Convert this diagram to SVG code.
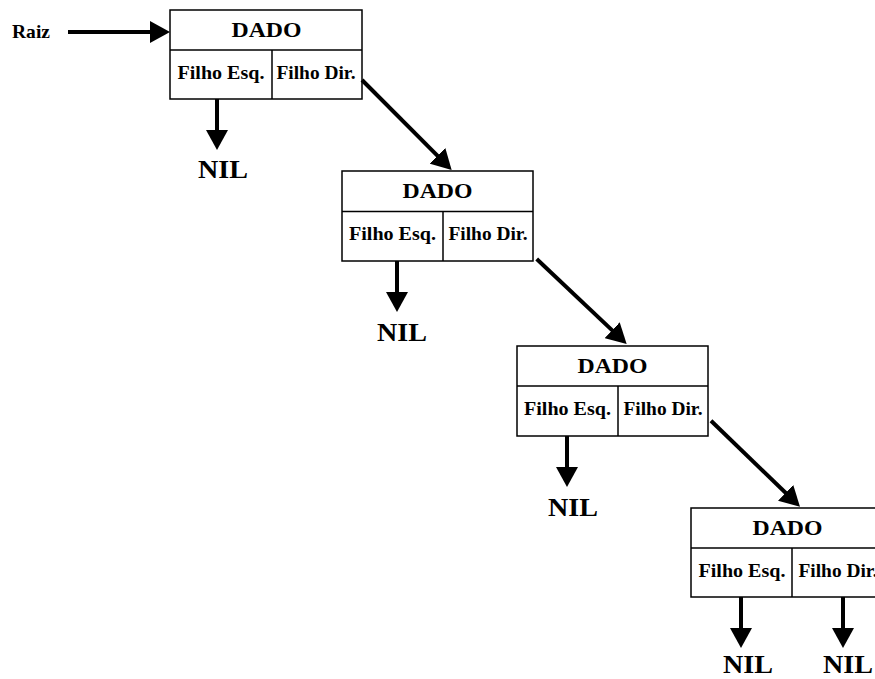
<svg xmlns="http://www.w3.org/2000/svg" width="875" height="679" viewBox="0 0 875 679">
  <style>
    text { font-family: "Liberation Serif", "Times New Roman", serif; font-weight: bold; fill: #000; text-anchor: middle; }
    .box { fill: #fff; stroke: #000; stroke-width: 1.5; }
    .sep { stroke: #000; stroke-width: 1.5; fill: none; }
    .dado { font-size: 21px; }
    .campo { font-size: 18.5px; }
    .nil { font-size: 25px; }
    .raiz { font-size: 19px; text-anchor: start; }
    .seta { stroke: #000; stroke-width: 4; fill: none; marker-end: url(#ponta); }
  </style>
  <defs>
    <marker id="ponta" markerUnits="userSpaceOnUse" markerWidth="20" markerHeight="22" refX="10" refY="11" orient="auto">
      <path d="M0,0 L20,11 L0,22 z" fill="#000"/>
    </marker>
  </defs>

  <rect width="875" height="679" fill="#fff"/>

  <!-- Nó 1 -->
  <g id="no1">
    <rect class="box" x="170" y="10" width="192" height="89"/>
    <line class="sep" x1="170" y1="50" x2="362" y2="50"/>
    <line class="sep" x1="272" y1="50" x2="272" y2="99"/>
    <text class="dado" x="266.5" y="37" textLength="70" lengthAdjust="spacingAndGlyphs">DADO</text>
    <text class="campo" x="221" y="79" textLength="87" lengthAdjust="spacingAndGlyphs">Filho Esq.</text>
    <text class="campo" x="316" y="79" textLength="79" lengthAdjust="spacingAndGlyphs">Filho Dir.</text>
  </g>

  <!-- Nó 2 -->
  <g id="no2">
    <rect class="box" x="342" y="171" width="191" height="90"/>
    <line class="sep" x1="342" y1="211.5" x2="533" y2="211.5"/>
    <line class="sep" x1="443" y1="211.5" x2="443" y2="261"/>
    <text class="dado" x="437.5" y="198" textLength="70" lengthAdjust="spacingAndGlyphs">DADO</text>
    <text class="campo" x="392.5" y="240" textLength="87" lengthAdjust="spacingAndGlyphs">Filho Esq.</text>
    <text class="campo" x="488" y="240" textLength="79" lengthAdjust="spacingAndGlyphs">Filho Dir.</text>
  </g>

  <!-- Nó 3 -->
  <g id="no3">
    <rect class="box" x="517" y="346" width="191" height="90"/>
    <line class="sep" x1="517" y1="386" x2="708" y2="386"/>
    <line class="sep" x1="618" y1="386" x2="618" y2="436"/>
    <text class="dado" x="612.5" y="373" textLength="70" lengthAdjust="spacingAndGlyphs">DADO</text>
    <text class="campo" x="567.5" y="415" textLength="87" lengthAdjust="spacingAndGlyphs">Filho Esq.</text>
    <text class="campo" x="663" y="415" textLength="79" lengthAdjust="spacingAndGlyphs">Filho Dir.</text>
  </g>

  <!-- Nó 4 -->
  <g id="no4">
    <rect class="box" x="691" y="508" width="192" height="89"/>
    <line class="sep" x1="691" y1="548" x2="883" y2="548"/>
    <line class="sep" x1="792" y1="548" x2="792" y2="597"/>
    <text class="dado" x="787.5" y="535" textLength="70" lengthAdjust="spacingAndGlyphs">DADO</text>
    <text class="campo" x="742" y="577" textLength="87" lengthAdjust="spacingAndGlyphs">Filho Esq.</text>
    <text class="campo" x="838" y="577" textLength="79" lengthAdjust="spacingAndGlyphs">Filho Dir.</text>
  </g>

  <!-- Rótulos -->
  <g id="raiz">
    <text class="raiz" x="12" y="38" textLength="38" lengthAdjust="spacingAndGlyphs">Raiz</text>
  </g>
  <g id="nil1"><text class="nil" x="223" y="178" textLength="50" lengthAdjust="spacingAndGlyphs">NIL</text></g>
  <g id="nil2"><text class="nil" x="402" y="341" textLength="50" lengthAdjust="spacingAndGlyphs">NIL</text></g>
  <g id="nil3"><text class="nil" x="573" y="516" textLength="50" lengthAdjust="spacingAndGlyphs">NIL</text></g>
  <g id="nil4"><text class="nil" x="748" y="673" textLength="50" lengthAdjust="spacingAndGlyphs">NIL</text></g>
  <g id="nil5"><text class="nil" x="848" y="673" textLength="50" lengthAdjust="spacingAndGlyphs">NIL</text></g>

  <!-- Ligações -->
  <g id="ligacoes">
    <line class="seta" x1="68" y1="32" x2="160" y2="32"/>
    <line class="seta" x1="217" y1="99" x2="217" y2="140"/>
    <line class="seta" x1="362" y1="80" x2="444.6" y2="162.9"/>
    <line class="seta" x1="397" y1="261" x2="397" y2="302"/>
    <line class="seta" x1="536.7" y1="259" x2="619.4" y2="337.1"/>
    <line class="seta" x1="567" y1="436" x2="567" y2="477"/>
    <line class="seta" x1="711" y1="420.7" x2="792.8" y2="499.8"/>
    <line class="seta" x1="741" y1="597" x2="741" y2="638"/>
    <line class="seta" x1="843" y1="597" x2="843" y2="638"/>
  </g>
</svg>
